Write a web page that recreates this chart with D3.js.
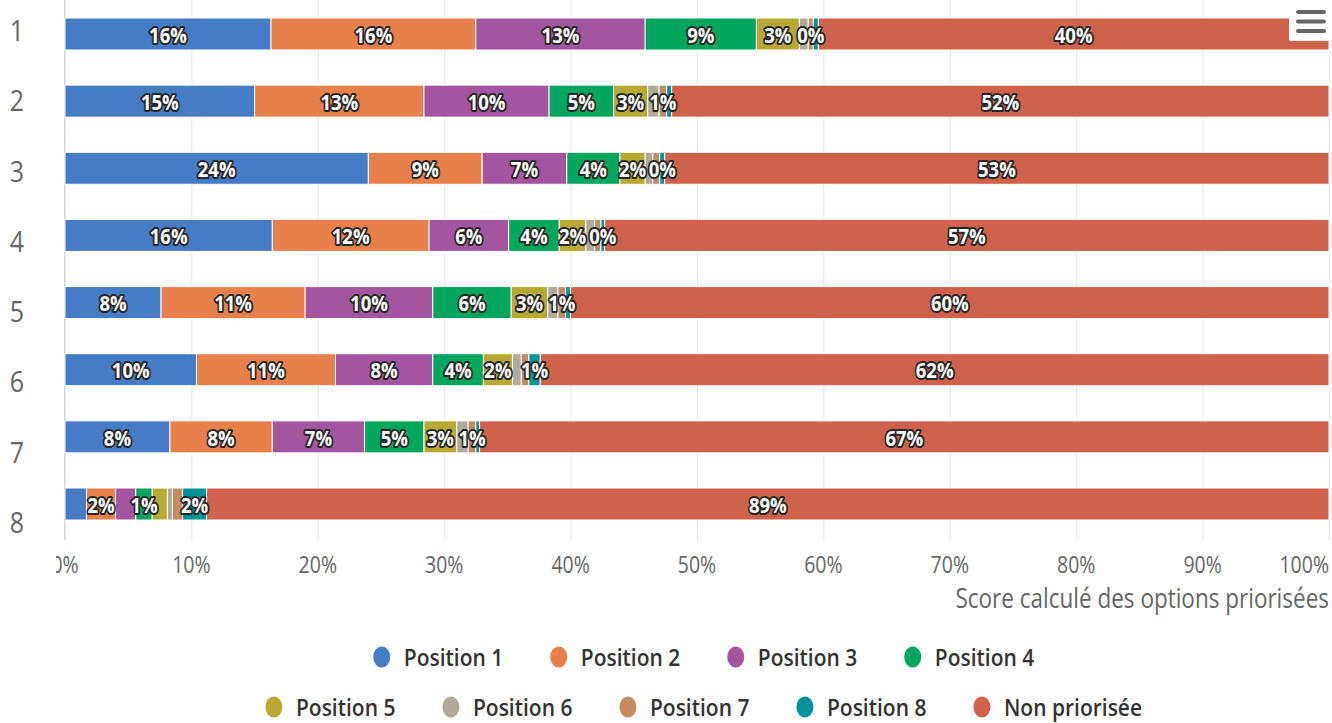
<!DOCTYPE html>
<html>
<head>
<meta charset="utf-8">
<script src="https://cdn.jsdelivr.net/npm/d3@7"></script>
<style>
  body { margin: 0; background: #fff; }
  svg { display: block; font-family: "Open Sans", "Noto Sans", sans-serif; }
</style>
</head>
<body>
<svg id="chart" width="1332" height="723"></svg>
<script>
// Rows (rank of the option) and the stacked series, in percent
const categories = ["1", "2", "3", "4", "5", "6", "7", "8"];
const seriesNames = ["Position 1", "Position 2", "Position 3", "Position 4",
  "Position 5", "Position 6", "Position 7", "Position 8", "Non priorisée"];
const seriesColors = ["#467cc6", "#e8804c", "#a4559f", "#00a55e",
  "#b8a935", "#b0a99c", "#c48b63", "#00939a", "#cf624b"];

const position1 = [16.3, 15.0, 24.0, 16.4, 7.6, 10.4, 8.3, 1.7];
const position2 = [16.2, 13.4, 9.0, 12.4, 11.4, 11.0, 8.1, 2.3];
const position3 = [13.4, 9.9, 6.7, 6.3, 10.1, 7.7, 7.3, 1.6];
const position4 = [8.8, 5.1, 4.2, 4.0, 6.2, 4.0, 4.7, 1.3];
const position5 = [3.4, 2.7, 2.0, 2.1, 2.9, 2.3, 2.6, 1.2];
const position6 = [0.7, 0.9, 0.6, 0.7, 0.8, 0.7, 0.9, 0.4];
const position7 = [0.4, 0.6, 0.55, 0.5, 0.6, 0.6, 0.6, 0.8];
const position8 = [0.4, 0.4, 0.4, 0.3, 0.4, 0.9, 0.3, 1.9];
const nonPriorisee = [40.4, 52.0, 52.55, 57.3, 60.0, 62.4, 67.2, 88.8];

const xTicks = [0, 10, 20, 30, 40, 50, 60, 70, 80, 90, 100];
const xTitle = "Score calculé des options priorisées";

const seriesValues = [position1, position2, position3, position4, position5,
  position6, position7, position8, nonPriorisee];

// Text is drawn slightly tall (vertical stretch of the whole chart)
const SY = 1.2;

const svg = d3.select("#chart");
const x = d3.scaleLinear().domain([0, 100]).range([65, 1329]);
const yBar = d3.scalePoint().domain(categories).range([34, 504]);
const yLabel = d3.scalePoint().domain(categories).range([41, 533]);
const barH = 32;

function stretchedText(parent, px, py, str, sy = SY) {
  const g = parent.append("g").attr("transform", `translate(${px},${py}) scale(1,${sy})`);
  return g.append("text").text(str);
}

// Grid lines
svg.append("g").selectAll("line").data(xTicks).join("line")
  .attr("x1", d => x(d) + 0.5).attr("x2", d => x(d) + 0.5)
  .attr("y1", 0).attr("y2", 540)
  .attr("stroke", "#e6e6e6").attr("stroke-width", 1);

// Category axis line
svg.append("line").attr("x1", 64.5).attr("x2", 64.5).attr("y1", 0).attr("y2", 540)
  .attr("stroke", "#ccd6eb").attr("stroke-width", 1);

// Stacked data
const stackData = categories.map((c, i) => {
  const row = { cat: c };
  seriesNames.forEach((s, k) => row[s] = seriesValues[k][i]);
  return row;
});
const stacked = d3.stack().keys(seriesNames)(stackData);

const barsG = svg.append("g");
stacked.forEach((layer, k) => {
  barsG.append("g").selectAll("rect").data(layer).join("rect")
    .attr("x", d => x(d[0]))
    .attr("width", d => Math.max(0, x(d[1]) - x(d[0])))
    .attr("y", d => yBar(d.data.cat) - barH / 2)
    .attr("height", barH)
    .attr("fill", seriesColors[k])
    .attr("stroke", "#fff").attr("stroke-width", 1);
});

// Data labels: larger segments claim their space first, overlapping labels are hidden
const labelsG = svg.append("g");
categories.forEach((c, i) => {
  const items = stacked.map((layer, k) => {
    const d = layer[i];
    return { k, v: d[1] - d[0], cx: (x(d[0]) + x(d[1])) / 2, value: seriesValues[k][i] };
  });
  const order = items.slice().sort((a, b) => b.v - a.v);
  const placed = [];
  order.forEach(it => {
    const t = stretchedText(labelsG, it.cx, yBar(c), Math.round(it.value) + "%")
      .attr("text-anchor", "middle")
      .attr("dominant-baseline", "central")
      .attr("font-size", 18.5).attr("font-weight", 700)
      .attr("fill", "#fff")
      .attr("stroke", "#262626").attr("stroke-width", 3.4)
      .attr("stroke-linejoin", "round")
      .attr("paint-order", "stroke");
    const w = t.node().getComputedTextLength();
    const box = [it.cx - w / 2, it.cx + w / 2];
    const hit = placed.some(p => box[0] < p[1] && box[1] > p[0]);
    if (hit) t.node().parentNode.remove();
    else placed.push(box);
  });
});

// Category labels
categories.forEach(c => {
  stretchedText(svg, 17, yLabel(c), c)
    .attr("text-anchor", "middle")
    .attr("font-size", 25).attr("fill", "#666");
});

// Value axis labels (clipped on the left like the chart frame)
svg.append("clipPath").attr("id", "tickClip")
  .append("rect").attr("x", 56).attr("y", 540).attr("width", 1276).attr("height", 60);
const tickG = svg.append("g").attr("clip-path", "url(#tickClip)");
xTicks.forEach((t, idx) => {
  const last = idx === xTicks.length - 1;
  stretchedText(tickG, last ? 1329 : x(t), 573, d3.format("d")(t) + "%")
    .attr("text-anchor", last ? "end" : "middle")
    .attr("font-size", 19.5).attr("fill", "#666");
});

stretchedText(svg, 1329, 608, xTitle)
  .attr("text-anchor", "end")
  .attr("font-size", 22.5).attr("fill", "#666");

// Legend, two centred rows
const legendRows = [seriesNames.slice(0, 4), seriesNames.slice(4)];
const legendY = [657, 707];
const legendSY = 1.12;
const itemStep = 177;
const legendCenter = 703;
const legendFont = 21;
legendRows.forEach((row, r) => {
  const g = svg.append("g");
  // measure last item to centre the row
  const probe = stretchedText(g, 0, 0, row[row.length - 1], legendSY)
    .attr("font-size", legendFont).attr("font-weight", 600);
  const lastW = probe.node().getComputedTextLength();
  probe.node().parentNode.remove();
  const total = (row.length - 1) * itemStep + 22 + lastW + 10;
  const start = legendCenter - total / 2 + 10;
  row.forEach((name, j) => {
    const k = seriesNames.indexOf(name);
    const cx = start + j * itemStep;
    g.append("ellipse").attr("cx", cx).attr("cy", legendY[r])
      .attr("rx", 8.5).attr("ry", 10.5).attr("fill", seriesColors[k]);
    stretchedText(g, cx + 22, legendY[r], name, legendSY)
      .attr("dominant-baseline", "central")
      .attr("font-size", legendFont).attr("font-weight", 600).attr("fill", "#333");
  });
});

// Context menu button
const menu = svg.append("g");
menu.append("rect").attr("x", 1289).attr("y", 0).attr("width", 43).attr("height", 41)
  .attr("rx", 2).attr("fill", "#fff");
[12, 21.5, 31].forEach(yy => {
  menu.append("line").attr("x1", 1298).attr("x2", 1324).attr("y1", yy).attr("y2", yy)
    .attr("stroke", "#666").attr("stroke-width", 4).attr("stroke-linecap", "round");
});
</script>
</body>
</html>
